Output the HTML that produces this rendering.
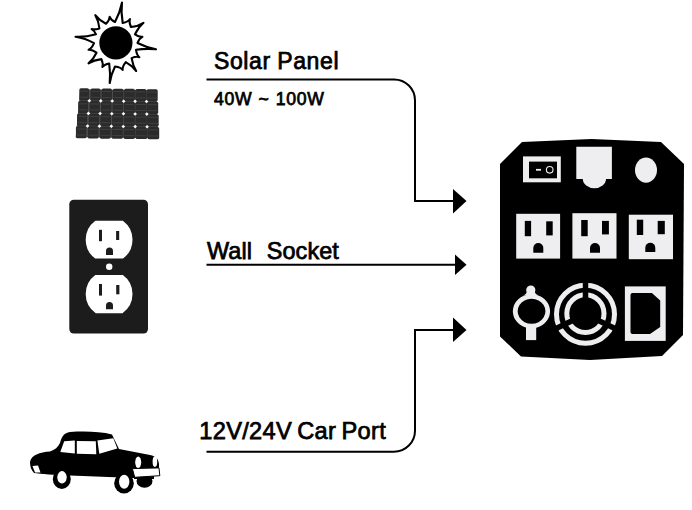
<!DOCTYPE html>
<html><head><meta charset="utf-8">
<style>
html,body{margin:0;padding:0;background:#fff;}
body{width:692px;height:510px;overflow:hidden;position:relative;}
svg{position:absolute;left:0;top:0;}
.t{font-family:"Liberation Sans",sans-serif;fill:#000;stroke:#000;stroke-width:0.75px;white-space:pre;}
</style></head><body>
<svg width="692" height="510" viewBox="0 0 692 510">
<!-- sun -->
<path id="sun" d="M115,22 Q120.04,12.45 122,2.5 Q120.81,12.55 122.7,23 Q128.01,21.80 130,19 Q128.84,22.20 131,27 Q138.05,26.36 143.5,22.8 Q138.45,27.09 135,34.3 Q139.20,37.29 142.4,36.8 Q139.45,38.16 137.5,43 Q146.45,47.51 156,49.3 Q146.30,48.19 136,49.8 Q136.82,55.16 139.4,57.2 Q136.38,55.99 131.6,58.1 Q132.74,65.37 136.2,71 Q132.16,65.78 125.8,62.2 Q122.09,66.91 122.7,69.9 Q121.01,67.34 115,66.5 Q111.19,74.15 109.7,83 Q110.61,73.85 109.2,63.5 Q104.24,64.37 102.4,67 Q103.46,63.93 101.4,59.1 Q93.97,59.92 88.5,63.3 Q93.48,59.28 96.5,52.7 Q92.05,49.33 88.6,49.8 Q91.80,48.37 94,43.1 Q85.15,38.19 75.5,36.8 Q85.35,37.31 96,34.3 Q94.48,30.47 91.6,29 Q94.82,29.88 99.4,28.4 Q98.67,20.88 95.3,15.2 Q99.33,20.42 106,23.8 Q109.65,19.89 109.7,16.7 Q110.55,19.71 115,22 Z" fill="#fff" stroke="#000" stroke-width="2.1" stroke-linejoin="round"/>
<circle cx="115.9" cy="42.8" r="16.6" fill="#000"/>
<!-- solar panel -->
<polygon points="80.20,89.20 156.30,90.20 158.30,138.30 75.70,137.30" fill="#4e4e4e"/><g fill="#2b2b2b"><rect x="79.30" y="88.30" width="9.72" height="12.17" rx="1.6"/><rect x="78.17" y="100.92" width="9.95" height="12.17" rx="1.6"/><rect x="77.05" y="113.55" width="10.19" height="12.17" rx="1.6"/><rect x="75.92" y="126.17" width="10.42" height="12.17" rx="1.6"/><rect x="90.51" y="88.44" width="9.95" height="12.17" rx="1.6"/><rect x="89.62" y="101.07" width="10.19" height="12.17" rx="1.6"/><rect x="88.73" y="113.69" width="10.42" height="12.17" rx="1.6"/><rect x="87.84" y="126.32" width="10.65" height="12.17" rx="1.6"/><rect x="101.73" y="88.59" width="10.19" height="12.17" rx="1.6"/><rect x="101.07" y="101.21" width="10.42" height="12.17" rx="1.6"/><rect x="100.41" y="113.84" width="10.65" height="12.17" rx="1.6"/><rect x="99.75" y="126.46" width="10.88" height="12.17" rx="1.6"/><rect x="112.94" y="88.73" width="10.42" height="12.17" rx="1.6"/><rect x="112.51" y="101.35" width="10.65" height="12.17" rx="1.6"/><rect x="112.09" y="113.98" width="10.88" height="12.17" rx="1.6"/><rect x="111.66" y="126.60" width="11.11" height="12.17" rx="1.6"/><rect x="124.16" y="88.87" width="10.65" height="12.17" rx="1.6"/><rect x="123.96" y="101.50" width="10.88" height="12.17" rx="1.6"/><rect x="123.76" y="114.12" width="11.11" height="12.17" rx="1.6"/><rect x="123.57" y="126.75" width="11.35" height="12.17" rx="1.6"/><rect x="135.37" y="89.01" width="10.88" height="12.17" rx="1.6"/><rect x="135.41" y="101.64" width="11.11" height="12.17" rx="1.6"/><rect x="135.44" y="114.26" width="11.35" height="12.17" rx="1.6"/><rect x="135.48" y="126.89" width="11.58" height="12.17" rx="1.6"/><rect x="146.59" y="89.16" width="11.11" height="12.17" rx="1.6"/><rect x="146.85" y="101.78" width="11.35" height="12.17" rx="1.6"/><rect x="147.12" y="114.41" width="11.58" height="12.17" rx="1.6"/><rect x="147.39" y="127.03" width="11.81" height="12.17" rx="1.6"/></g><g stroke="#454545" stroke-width="0.8"><line x1="80.10" y1="91.19" x2="88.22" y2="91.19"/><line x1="80.10" y1="97.19" x2="88.22" y2="97.19"/><line x1="78.97" y1="103.82" x2="87.33" y2="103.82"/><line x1="78.97" y1="109.82" x2="87.33" y2="109.82"/><line x1="77.85" y1="116.44" x2="86.44" y2="116.44"/><line x1="77.85" y1="122.44" x2="86.44" y2="122.44"/><line x1="76.72" y1="129.07" x2="85.54" y2="129.07"/><line x1="76.72" y1="135.07" x2="85.54" y2="135.07"/><line x1="91.31" y1="91.33" x2="99.67" y2="91.33"/><line x1="91.31" y1="97.34" x2="99.67" y2="97.34"/><line x1="90.42" y1="103.96" x2="99.01" y2="103.96"/><line x1="90.42" y1="109.96" x2="99.01" y2="109.96"/><line x1="89.53" y1="116.58" x2="98.35" y2="116.58"/><line x1="89.53" y1="122.59" x2="98.35" y2="122.59"/><line x1="88.64" y1="129.21" x2="97.69" y2="129.21"/><line x1="88.64" y1="135.21" x2="97.69" y2="135.21"/><line x1="102.53" y1="91.48" x2="111.11" y2="91.48"/><line x1="102.53" y1="97.48" x2="111.11" y2="97.48"/><line x1="101.87" y1="104.10" x2="110.69" y2="104.10"/><line x1="101.87" y1="110.10" x2="110.69" y2="110.10"/><line x1="101.21" y1="116.73" x2="110.26" y2="116.73"/><line x1="101.21" y1="122.73" x2="110.26" y2="122.73"/><line x1="100.55" y1="129.35" x2="109.83" y2="129.35"/><line x1="100.55" y1="135.35" x2="109.83" y2="135.35"/><line x1="113.74" y1="91.62" x2="122.56" y2="91.62"/><line x1="113.74" y1="97.62" x2="122.56" y2="97.62"/><line x1="113.31" y1="104.25" x2="122.36" y2="104.25"/><line x1="113.31" y1="110.25" x2="122.36" y2="110.25"/><line x1="112.89" y1="116.87" x2="122.17" y2="116.87"/><line x1="112.89" y1="122.87" x2="122.17" y2="122.87"/><line x1="112.46" y1="129.50" x2="121.97" y2="129.50"/><line x1="112.46" y1="135.50" x2="121.97" y2="135.50"/><line x1="124.96" y1="91.76" x2="134.01" y2="91.76"/><line x1="124.96" y1="97.76" x2="134.01" y2="97.76"/><line x1="124.76" y1="104.39" x2="134.04" y2="104.39"/><line x1="124.76" y1="110.39" x2="134.04" y2="110.39"/><line x1="124.56" y1="117.01" x2="134.08" y2="117.01"/><line x1="124.56" y1="123.01" x2="134.08" y2="123.01"/><line x1="124.37" y1="129.64" x2="134.11" y2="129.64"/><line x1="124.37" y1="135.64" x2="134.11" y2="135.64"/><line x1="136.17" y1="91.91" x2="145.45" y2="91.91"/><line x1="136.17" y1="97.91" x2="145.45" y2="97.91"/><line x1="136.21" y1="104.53" x2="145.72" y2="104.53"/><line x1="136.21" y1="110.53" x2="145.72" y2="110.53"/><line x1="136.24" y1="117.16" x2="145.99" y2="117.16"/><line x1="136.24" y1="123.16" x2="145.99" y2="123.16"/><line x1="136.28" y1="129.78" x2="146.26" y2="129.78"/><line x1="136.28" y1="135.78" x2="146.26" y2="135.78"/><line x1="147.39" y1="92.05" x2="156.90" y2="92.05"/><line x1="147.39" y1="98.05" x2="156.90" y2="98.05"/><line x1="147.65" y1="104.67" x2="157.40" y2="104.67"/><line x1="147.65" y1="110.67" x2="157.40" y2="110.67"/><line x1="147.92" y1="117.30" x2="157.90" y2="117.30"/><line x1="147.92" y1="123.30" x2="157.90" y2="123.30"/><line x1="148.19" y1="129.92" x2="158.40" y2="129.92"/><line x1="148.19" y1="135.93" x2="158.40" y2="135.93"/></g><g fill="#fafafa"><path d="M89.32,98.97 L91.12,100.77 L89.32,102.57 L87.52,100.77Z"/><path d="M88.43,111.59 L90.23,113.39 L88.43,115.19 L86.63,113.39Z"/><path d="M87.54,124.22 L89.34,126.02 L87.54,127.82 L85.74,126.02Z"/><path d="M100.77,99.11 L102.57,100.91 L100.77,102.71 L98.97,100.91Z"/><path d="M100.11,111.74 L101.91,113.54 L100.11,115.34 L98.31,113.54Z"/><path d="M99.45,124.36 L101.25,126.16 L99.45,127.96 L97.65,126.16Z"/><path d="M112.21,99.25 L114.01,101.05 L112.21,102.85 L110.41,101.05Z"/><path d="M111.79,111.88 L113.59,113.68 L111.79,115.48 L109.99,113.68Z"/><path d="M111.36,124.50 L113.16,126.30 L111.36,128.10 L109.56,126.30Z"/><path d="M123.66,99.40 L125.46,101.20 L123.66,103.00 L121.86,101.20Z"/><path d="M123.46,112.02 L125.26,113.82 L123.46,115.62 L121.66,113.82Z"/><path d="M123.27,124.65 L125.07,126.45 L123.27,128.25 L121.47,126.45Z"/><path d="M135.11,99.54 L136.91,101.34 L135.11,103.14 L133.31,101.34Z"/><path d="M135.14,112.16 L136.94,113.96 L135.14,115.76 L133.34,113.96Z"/><path d="M135.18,124.79 L136.98,126.59 L135.18,128.39 L133.38,126.59Z"/><path d="M146.55,99.68 L148.35,101.48 L146.55,103.28 L144.75,101.48Z"/><path d="M146.82,112.31 L148.62,114.11 L146.82,115.91 L145.02,114.11Z"/><path d="M147.09,124.93 L148.89,126.73 L147.09,128.53 L145.29,126.73Z"/></g>
<!-- wall plate -->
<rect x="69.3" y="199.8" width="78.7" height="133.8" rx="4.5" fill="#1c1c1c"/>
<g fill="#fff">
<path d="M95.63,221.80 L122.57,221.80 A22.4,22.4 0 0 1 122.70,257.50 L95.50,257.50 A22.4,22.4 0 0 1 95.63,221.80 Z" stroke="#fff" stroke-width="2.0" stroke-linejoin="round"/>
<path d="M95.90,275.90 L122.30,275.90 A22.4,22.4 0 0 1 122.16,312.20 L96.04,312.20 A22.4,22.4 0 0 1 95.90,275.90 Z" stroke="#fff" stroke-width="2.0" stroke-linejoin="round"/>
<circle cx="109.2" cy="266.7" r="3.2"/>
</g>
<g fill="#1c1c1c">
<rect x="99" y="229.8" width="3" height="11.4"/>
<rect x="116.1" y="231" width="3.1" height="9"/>
<path d="M106,254.9 L106,251 A3.5,3.5 0 0 1 113,251 L113,254.9Z"/>
<rect x="99" y="284" width="3" height="11.6"/>
<rect x="116.2" y="285" width="3.2" height="9.3"/>
<path d="M106,309.2 L106,305.5 A3.5,3.5 0 0 1 113,305.5 L113,309.2Z"/>
</g>
<!-- car -->
<g fill="#000">
<path d="M30,462 C31,455 40,452 50,451.4 C55,450 58,447 60,443 C62,436 64,433 70,432 C85,431 100,431.5 112,434.5 L119,449 L150,455 C156,456.5 158.5,459 159,464 L159,468 L134,469 L134,478 L70,475.5 C55,475 40,474 34,473 C31,470 30,466 30,462Z"/>
<ellipse cx="61.8" cy="479" rx="9" ry="10"/>
<ellipse cx="124" cy="483.3" rx="9.8" ry="10.3"/>
<ellipse cx="144.5" cy="481" rx="8" ry="6.8"/><rect x="134" y="470" width="20" height="9"/>
</g>
<g fill="#fff">
<path d="M60.3,452 L64.2,441.2 L74.8,440.6 L74.8,453.5Z"/>
<path d="M76.8,441 L95.8,441.2 L96.3,454.3 L76.8,453.7Z"/>
<path d="M97.4,440.4 L113.3,438.2 L117.3,448.4 L99.3,453.7Z"/>
<ellipse cx="62" cy="477.3" rx="4.7" ry="6.2"/>
<ellipse cx="124.2" cy="481.8" rx="5.2" ry="7"/>
<ellipse cx="138.2" cy="462.3" rx="3" ry="5.8"/>
<ellipse cx="154.9" cy="461.8" rx="2.3" ry="5.2"/>
<path d="M132.4,468.6 L159,467.9 L159.8,475.7 L134.7,477.3Z" stroke="#000" stroke-width="1"/>
<path d="M32.5,466 L38,465.5 L40.5,472.5 L35,472.5Z"/>
</g>
<!-- device -->
<polygon points="522,142 591.5,139 661,142 684,164 683,335 662,356 590,360 521,356.5 500,336.5 500,164" fill="#000"/>
<g fill="#eeeef0">
<rect x="523" y="156.4" width="37.8" height="25.9"/>
<path d="M576.3,146.7 L611.9,146.7 L611.9,179 L606,179 A11.6,9.2 0 0 1 582.8,179 L576.3,179Z"/>
<ellipse cx="646" cy="170.1" rx="11" ry="12.6"/>
<rect x="516.2" y="213.8" width="43.9" height="44.8"/>
<rect x="572.4" y="213.2" width="44.1" height="45.4"/>
<rect x="628.8" y="214.7" width="44.2" height="44.5"/>
<rect x="624.9" y="286.4" width="40.8" height="54.5"/>
</g>
<g fill="#000">
<rect x="529" y="161.6" width="28" height="16.7"/>
<rect x="524.8" y="220.9" width="6.3" height="15.3"/>
<rect x="546.2" y="221.3" width="6.5" height="14.1"/>
<path d="M533.3,252.7 L533.3,248 A5,5 0 0 1 543.3,248 L543.3,252.7Z"/>
<rect x="581.2" y="220" width="6.5" height="16.2"/>
<rect x="602" y="220.9" width="6.9" height="13.5"/>
<path d="M590,252.7 L590,248 A5,5 0 0 1 600,248 L600,252.7Z"/>
<rect x="636.8" y="219.7" width="6.4" height="15.3"/>
<rect x="657.7" y="220.9" width="7.1" height="13.3"/>
<path d="M645.3,251.9 L645.3,247.7 A5,5 0 0 1 655.3,247.7 L655.3,251.9Z"/>
<path d="M632.5,293.1 L651.9,293.1 L660.2,300.4 L660.2,327.1 L650,334.1 L632.5,334.1 Q630.5,334.1 630.5,332.1 L630.5,295.1 Q630.5,293.1 632.5,293.1Z"/>
</g>
<g stroke="#eeeef0" fill="none">
<line x1="536" y1="169.8" x2="541" y2="169.8" stroke-width="1.8"/>
<circle cx="549.7" cy="169.8" r="3.3" stroke-width="1.1"/>
</g>
<!-- cig lighter -->
<g fill="#eeeef0">
<path fill-rule="evenodd" d="M531.5,294.3 A18.6,17 0 1 1 531.4,294.3Z M531.5,298.8 A13.9,12.5 0 1 0 531.6,298.8Z"/>
<circle cx="530.8" cy="290" r="4.6"/>
<path d="M527,291 L534.6,291 Q535,294.5 539,295.5 L523,295.5 Q526.5,294.5 527,291Z"/>
<rect x="526" y="326" width="10.2" height="14.1"/>
</g>
<!-- fan -->
<g fill="none" stroke="#eeeef0" stroke-width="5">
<circle cx="585.5" cy="314.3" r="29"/>
<ellipse cx="585.4" cy="313.6" rx="18.6" ry="18.8"/>
</g>
<g stroke="#000" stroke-width="5.5">
<line x1="585.5" y1="314.3" x2="585.5" y2="278"/>
<line x1="585.5" y1="314.3" x2="618" y2="330"/>
<line x1="585.5" y1="314.3" x2="553" y2="330"/>
</g>
<!-- lines -->
<g fill="none" stroke="#000" stroke-width="2">
<path d="M206.5,79.4 L394,79.4 A21,21 0 0 1 415,100.4 L415,201 L455,201"/>
<path d="M206.5,264.8 L456,264.8"/>
<path d="M206.5,451.7 L394,451.7 A21,21 0 0 0 415,430.7 L415,330 L455,330"/>
</g>
<g fill="#000">
<polygon points="453,189 466.5,201 453,213.5"/>
<polygon points="455,254.5 466.5,264.8 455,275"/>
<polygon points="453,317.5 466.5,330 453,342"/>
</g>
<text class="t" x="214" y="68.8" font-size="23" letter-spacing="0.6" word-spacing="-0.4">Solar Panel</text>
<text class="t" x="214" y="104.6" font-size="17.6" letter-spacing="0.75" word-spacing="0.5">40W ~ 100W</text>
<text class="t" x="207" y="258.8" font-size="23.4" letter-spacing="0.1" word-spacing="0.8" xml:space="preserve">Wall  Socket</text>
<text class="t" x="199.3" y="439" font-size="23.6" letter-spacing="0.3" word-spacing="-1.5">12V/24V Car Port</text>
</svg>
</body></html>
